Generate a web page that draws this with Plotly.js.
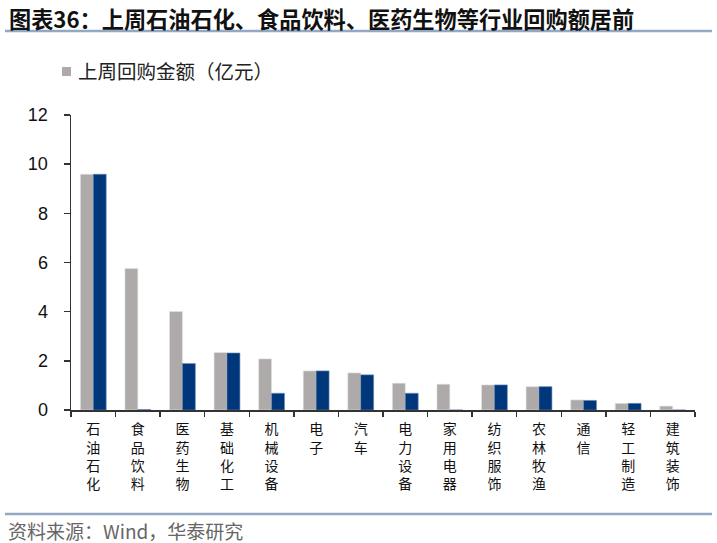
<!DOCTYPE html>
<html><head><meta charset="utf-8">
<script src="https://cdn.plot.ly/plotly-3.0.1.min.js"></script>
<style>html,body{margin:0;padding:0;background:#fff;}#chart{width:717px;height:543px;}</style>
</head><body><div id="chart"></div>
<script>
const categories = ["石油石化","食品饮料","医药生物","基础化工","机械设备","电子","汽车","电力设备","家用电器","纺织服饰","农林牧渔","通信","轻工制造","建筑装饰"];
const lastWeek = [9.59,5.76,4.01,2.34,2.08,1.59,1.51,1.09,1.05,1.02,0.95,0.41,0.27,0.16];
const thisWeek = [9.59,0.02,1.89,2.32,0.68,1.59,1.43,0.68,0,1.02,0.95,0.39,0.27,0];
const legendName = "上周回购金额（亿元）";
const titleText = "图表36：上周石油石化、食品饮料、医药生物等行业回购额居前";
const sourceText = "资料来源：Wind，华泰研究";
const yTicks = [0,2,4,6,8,10,12];

const W=717,H=543,L=71,R=22,T=115,B=133;
const pw=W-L-R, ph=H-T-B;
const px=x=>(x-L)/pw, py=y=>(H-B-y)/ph;
const vert = s => s.split("").join("<br>");
const cjk = '"Noto Sans CJK SC", "Noto Sans", sans-serif';
const grayC = '#AEAAAA', blueC = '#00377A';

const traces = [
 {type:'bar', x:categories, y:lastWeek, name:legendName, marker:{color:grayC, line:{color:'#E6E4E4', width:0.6}}, hoverinfo:'y'},
 {type:'bar', x:categories, y:thisWeek, name:'本周', showlegend:false, marker:{color:blueC, line:{color:'#6E88B0', width:0.6}}, hoverinfo:'y'}
];
const layout = {
 width:W, height:H, margin:{l:L,r:R,t:T,b:B}, paper_bgcolor:'#fff', plot_bgcolor:'#fff',
 barmode:'group', bargap:0.42, bargroupgap:0,
 showlegend:false,
 xaxis:{type:'category', tickvals:categories, ticktext:categories.map(vert), tickson:'boundaries', ticks:'outside', ticklen:5, tickcolor:'#333', tickwidth:1.5,
   showline:true, linecolor:'#333', linewidth:1.5, showgrid:false, zeroline:false, tickangle:0, ticklabelstandoff:6,
   tickfont:{family:cjk, size:14, color:'#111'}, automargin:false},
 yaxis:{range:[0,12], tickvals:yTicks, ticks:'outside', ticklen:6, tickcolor:'#333', tickwidth:1.5, showline:true, linecolor:'#333', linewidth:1.5,
   showgrid:false, zeroline:false, ticklabelstandoff:12, tickfont:{family:'"Liberation Sans", Arial, sans-serif', size:18, color:'#111'}, automargin:false},
 shapes:[
  {type:'line', xref:'paper', yref:'paper', x0:px(5), x1:px(712), y0:py(31), y1:py(31), line:{color:'#93A8C4', width:2.5}},
  {type:'line', xref:'paper', yref:'paper', x0:px(5), x1:px(712), y0:py(514), y1:py(514), line:{color:'#93A8C4', width:2.5}},
  {type:'rect', xref:'paper', yref:'paper', x0:px(62), x1:px(71), y0:py(67), y1:py(76), fillcolor:grayC, line:{width:0}}
 ],
 annotations:[
  {xref:'paper', yref:'paper', x:px(7), y:py(18), xanchor:'left', yanchor:'middle', showarrow:false, text:'<b>'+titleText+'</b>', font:{family:cjk, size:22.2, color:'#111'}},
  {xref:'paper', yref:'paper', x:px(76), y:py(71), xanchor:'left', yanchor:'middle', showarrow:false, text:legendName, font:{family:cjk, size:19.5, color:'#222'}},
  {xref:'paper', yref:'paper', x:px(6), y:py(530), xanchor:'left', yanchor:'middle', showarrow:false, text:sourceText, font:{family:cjk, size:19, color:'#666'}}
 ]
};
Plotly.newPlot('chart', traces, layout, {displayModeBar:false, staticPlot:true});
</script></body></html>
